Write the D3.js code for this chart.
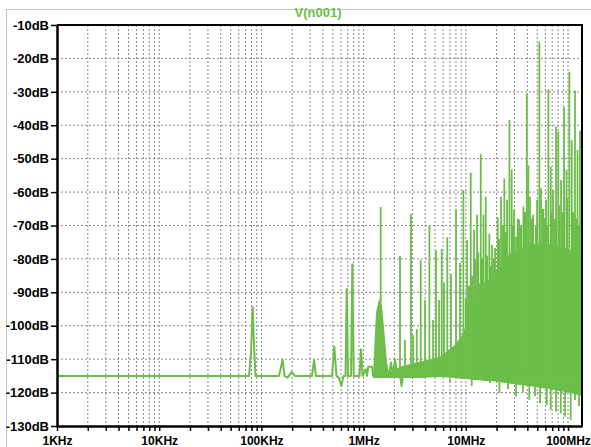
<!DOCTYPE html>
<html>
<head>
<meta charset="utf-8">
<script src="https://cdn.jsdelivr.net/npm/d3@7"></script>
<style>
body { margin: 0; background: #fff; }
text { font-family: "Liberation Sans", Arial, sans-serif; font-weight: bold; }
</style>
</head>
<body>
<svg id="chart" width="591" height="447"></svg>
<script>
// axis ticks
var decadeFreqs = [1e3, 1e4, 1e5, 1e6, 1e7, 1e8];
var decadeLabels = ["1KHz", "10KHz", "100KHz", "1MHz", "10MHz", "100MHz"];
var dbTicks = [-10, -20, -30, -40, -50, -60, -70, -80, -90, -100, -110, -120, -130];

// low frequency trace (Hz, dB)
var floorTrace = [
  [1e3, -115], [75.7e3, -115], [79.1e3, -108], [82.2e3, -94.4], [84.7e3, -106], [87.5e3, -115],
  [148.6e3, -115], [161.5e3, -110.2], [168.3e3, -115], [180e3, -115.5], [197.7e3, -113.8], [213e3, -115],
  [312.6e3, -115], [327.3e3, -110.2], [342e3, -115],
  [490.9e3, -115], [516e3, -106.2], [543e3, -115], [568e3, -115.5], [608e3, -118], [635e3, -115],
  [665e3, -115], [684e3, -89], [703e3, -115],
  [753e3, -115], [775e3, -81.6], [800e3, -115],
  [912e3, -115], [944e3, -107], [977e3, -115],
  [1.054e6, -113], [1.08e6, -115], [1.11e6, -112.3], [1.21e6, -112.3], [1.236e6, -115],
  [1.774e6, -115], [1.854e6, -111], [1.941e6, -115], [2.028e6, -110], [2.123e6, -115],
  [2.27e6, -115], [2.35e6, -118], [2.43e6, -115]
];

// dense part: freq, top dB, bottom dB
var band = [
  [1.236e6, -115, -115.6], [1.265e6, -108, -115.6], [1.322e6, -96, -115.6], [1.368e6, -94, -115.6],
  [1.416e6, -92, -115.6], [1.514e6, -94, -115.6], [1.567e6, -99, -115.6], [1.619e6, -104, -115.6],
  [1.694e6, -111, -115.6], [1.774e6, -114, -115.6], [2.028e6, -113, -115.6], [2.43e6, -112, -115.6],
  [3.56e6, -110.8, -115.6], [5.59e6, -109.3, -115.3], [7.84e6, -105.7, -115.6], [9.18e6, -102.8, -115.9],
  [10.5e6, -98.3, -115.9], [11.76e6, -92.3, -116.2], [12.88e6, -87.5, -116.2], [15.42e6, -86.9, -116.5],
  [18.04e6, -85.7, -116.5], [20.65e6, -82.1, -116.8], [24.2e6, -79.7, -117.1], [28.3e6, -77.9, -117.4],
  [33.9e6, -76.7, -117.7], [42.5e6, -75.8, -118], [53.2e6, -75.2, -118.6], [66.7e6, -75.5, -118.9],
  [83.6e6, -76.1, -119.5], [104.7e6, -77.3, -120.1], [137e6, -78.8, -121]
];

// peaks (Hz, dB)
var spikes = [
  [1.469e6, -64.5], [2.27e6, -79.1], [2.54e6, -104.3], [2.91e6, -66.6], [3.06e6, -102.8], [3.31e6, -101],
  [3.62e6, -80.3], [3.99e6, -92.3], [4.40e6, -70.1], [4.78e6, -98.3], [5.11e6, -77.5], [5.47e6, -92.3],
  [5.81e6, -77], [6.12e6, -87.2], [6.59e6, -73.5], [7.16e6, -84.5], [8.02e6, -65.1], [8.77e6, -81.2],
  [9.46e6, -59.4], [10.28e6, -74.3], [11.17e6, -54.2], [12.03e6, -71.3], [12.88e6, -66.8], [14.0e6, -48.6],
  [14.9e6, -66.8], [15.66e6, -61.4], [16.98e6, -72.5], [18.04e6, -75.8], [19.3e6, -76.7], [20.5e6, -67.5],
  [22.1e6, -61.4], [23.8e6, -55.9], [25.3e6, -62.3], [26.7e6, -38.4], [28.1e6, -53.2], [29.6e6, -65.3],
  [31.0e6, -73.3], [33.2e6, -68.3], [36.6e6, -64.3], [39.5e6, -30.6], [40.9e6, -52], [42.5e6, -61.4],
  [45.5e6, -66.8], [47.5e6, -76], [49.8e6, -62.3], [52.4e6, -15], [54.4e6, -58.9], [58.6e6, -67.8],
  [60.9e6, -62.3], [64.2e6, -29.2], [67.7e6, -52.4], [71.3e6, -59.4], [76.4e6, -40.4], [80.4e6, -41.9],
  [85.5e6, -56.4], [91.5e6, -34.6], [96.7e6, -53.4], [103.0e6, -24], [108.7e6, -44.4], [117.0e6, -29.6],
  [123.9e6, -47.4], [131.0e6, -41.6]
];

// smaller peaks that make the ragged top of the dense part (Hz, dB)
var minorSpikes = [
  [10.04e6, -92], [10.74e6, -88], [11.5e6, -85], [12.3e6, -80], [13.15e6, -78], [14.4e6, -80],
  [16.1e6, -79], [17.6e6, -82], [18.9e6, -80], [21.1e6, -74], [23.1e6, -70], [24.7e6, -72],
  [29.0e6, -70], [32.4e6, -68], [34.7e6, -70], [37.9e6, -66], [44.5e6, -68], [48.7e6, -70],
  [56.9e6, -65], [62.3e6, -70], [69.7e6, -66], [74.6e6, -68], [81.7e6, -64], [89.3e6, -66],
  [97.7e6, -62], [111.9e6, -66], [119.7e6, -68], [128.2e6, -70]
];

// downward dips (Hz, dB)
var dips = [
  [7.0e6, -117], [11.43e6, -118], [17.26e6, -117.1], [21.3e6, -120.2], [25.9e6, -119], [31.0e6, -121.2],
  [36.3e6, -120], [41.8e6, -122.2], [47.5e6, -121], [53.2e6, -123.2], [61.9e6, -123.7], [67.7e6, -125.2],
  [76.4e6, -125.7], [84.9e6, -126.2], [93.5e6, -127.2], [106.2e6, -128.2], [117.0e6, -122.2], [128.2e6, -124]
];

var green = "#6cbd4a";
var svg = d3.select("#chart");

var x = d3.scaleLog().domain([1e3, 1.37e8]).range([57, 582]);
var y = d3.scaleLinear().domain([-130, -10]).range([426, 25]);

// outer frame
svg.append("rect").attr("x", 6.5).attr("y", 9.5).attr("width", 600).attr("height", 460)
  .attr("fill", "none").attr("stroke", "#c4c4c4").attr("stroke-width", 1);

// minor tick positions
var allFreqs = [];
decadeFreqs.forEach(function(d) {
  for (var m = 1; m <= 9; m++) {
    if (d * m <= 1.37e8) allFreqs.push(d * m);
  }
});

// grid
var grid = svg.append("g");
grid.selectAll(".vg").data(allFreqs.filter(function(f) { return f > 1e3; }))
  .enter().append("line")
  .attr("x1", function(d) { return x(d); }).attr("x2", function(d) { return x(d); })
  .attr("y1", 25).attr("y2", 426)
  .attr("stroke", "#8a8a8a").attr("stroke-dasharray", "2,2");
grid.selectAll(".hg").data(dbTicks.slice(1, -1))
  .enter().append("line")
  .attr("x1", 57).attr("x2", 582)
  .attr("y1", function(d) { return y(d); }).attr("y2", function(d) { return y(d); })
  .attr("stroke", "#8a8a8a").attr("stroke-dasharray", "2,2");

// clip
svg.append("clipPath").attr("id", "clip").append("rect")
  .attr("x", 57).attr("y", 25).attr("width", 525).attr("height", 401);
var plot = svg.append("g").attr("clip-path", "url(#clip)");

var area = d3.area()
  .x(function(d) { return x(d[0]); })
  .y0(function(d) { return y(d[2]); })
  .y1(function(d) { return y(d[1]); });
plot.append("path").datum(band).attr("d", area).attr("fill", green);

function drawSpikes(data, base, width) {
  plot.selectAll(null).data(data).enter().append("line")
    .attr("x1", function(d) { return x(d[0]); }).attr("x2", function(d) { return x(d[0]); })
    .attr("y1", y(base)).attr("y2", function(d) { return y(d[1]); })
    .attr("stroke", green).attr("stroke-width", width);
}
drawSpikes(minorSpikes, -115, 2.4);
drawSpikes(spikes, -115, 1.8);
drawSpikes(dips, -116, 1.8);

var line = d3.line()
  .x(function(d) { return x(d[0]); })
  .y(function(d) { return y(d[1]); });
plot.append("path").datum(floorTrace).attr("d", line)
  .attr("fill", "none").attr("stroke", green).attr("stroke-width", 2).attr("stroke-linejoin", "round");

// frame top/right
svg.append("line").attr("x1", 57).attr("x2", 582).attr("y1", 25).attr("y2", 25)
  .attr("stroke", "#000").attr("stroke-width", 2);
svg.append("line").attr("x1", 582).attr("x2", 582).attr("y1", 24).attr("y2", 427)
  .attr("stroke", "#000").attr("stroke-width", 2);

// axes
var bottomAxis = d3.axisBottom(x)
  .tickValues(allFreqs)
  .tickSize(5).tickSizeOuter(0).tickPadding(5)
  .tickFormat(function(d) {
    var i = decadeFreqs.indexOf(d);
    return i >= 0 ? decadeLabels[i] : "";
  });
var xAxis = svg.append("g").attr("transform", "translate(0,426)").call(bottomAxis);

var leftAxis = d3.axisLeft(y)
  .tickValues(dbTicks)
  .tickSize(6).tickSizeOuter(0).tickPadding(2)
  .tickFormat(function(d) { return d + "dB"; });
var yAxis = svg.append("g").attr("transform", "translate(57,0)").call(leftAxis);

[xAxis, yAxis].forEach(function(a) {
  a.select(".domain").attr("stroke", "#000").attr("stroke-width", 2.5);
  a.selectAll(".tick line").attr("stroke", "#000").attr("stroke-width", 1.5);
  a.selectAll(".tick text").attr("fill", "#000")
    .style("font-family", '"Liberation Sans", Arial, sans-serif')
    .style("font-weight", "bold");
});
yAxis.selectAll(".tick text").style("font-size", "13px");
xAxis.selectAll(".tick text").style("font-size", "12px");

// title
svg.append("text").attr("x", 318).attr("y", 17).attr("text-anchor", "middle")
  .attr("fill", green).style("font-size", "13px").text("V(n001)");
</script>
</body>
</html>
